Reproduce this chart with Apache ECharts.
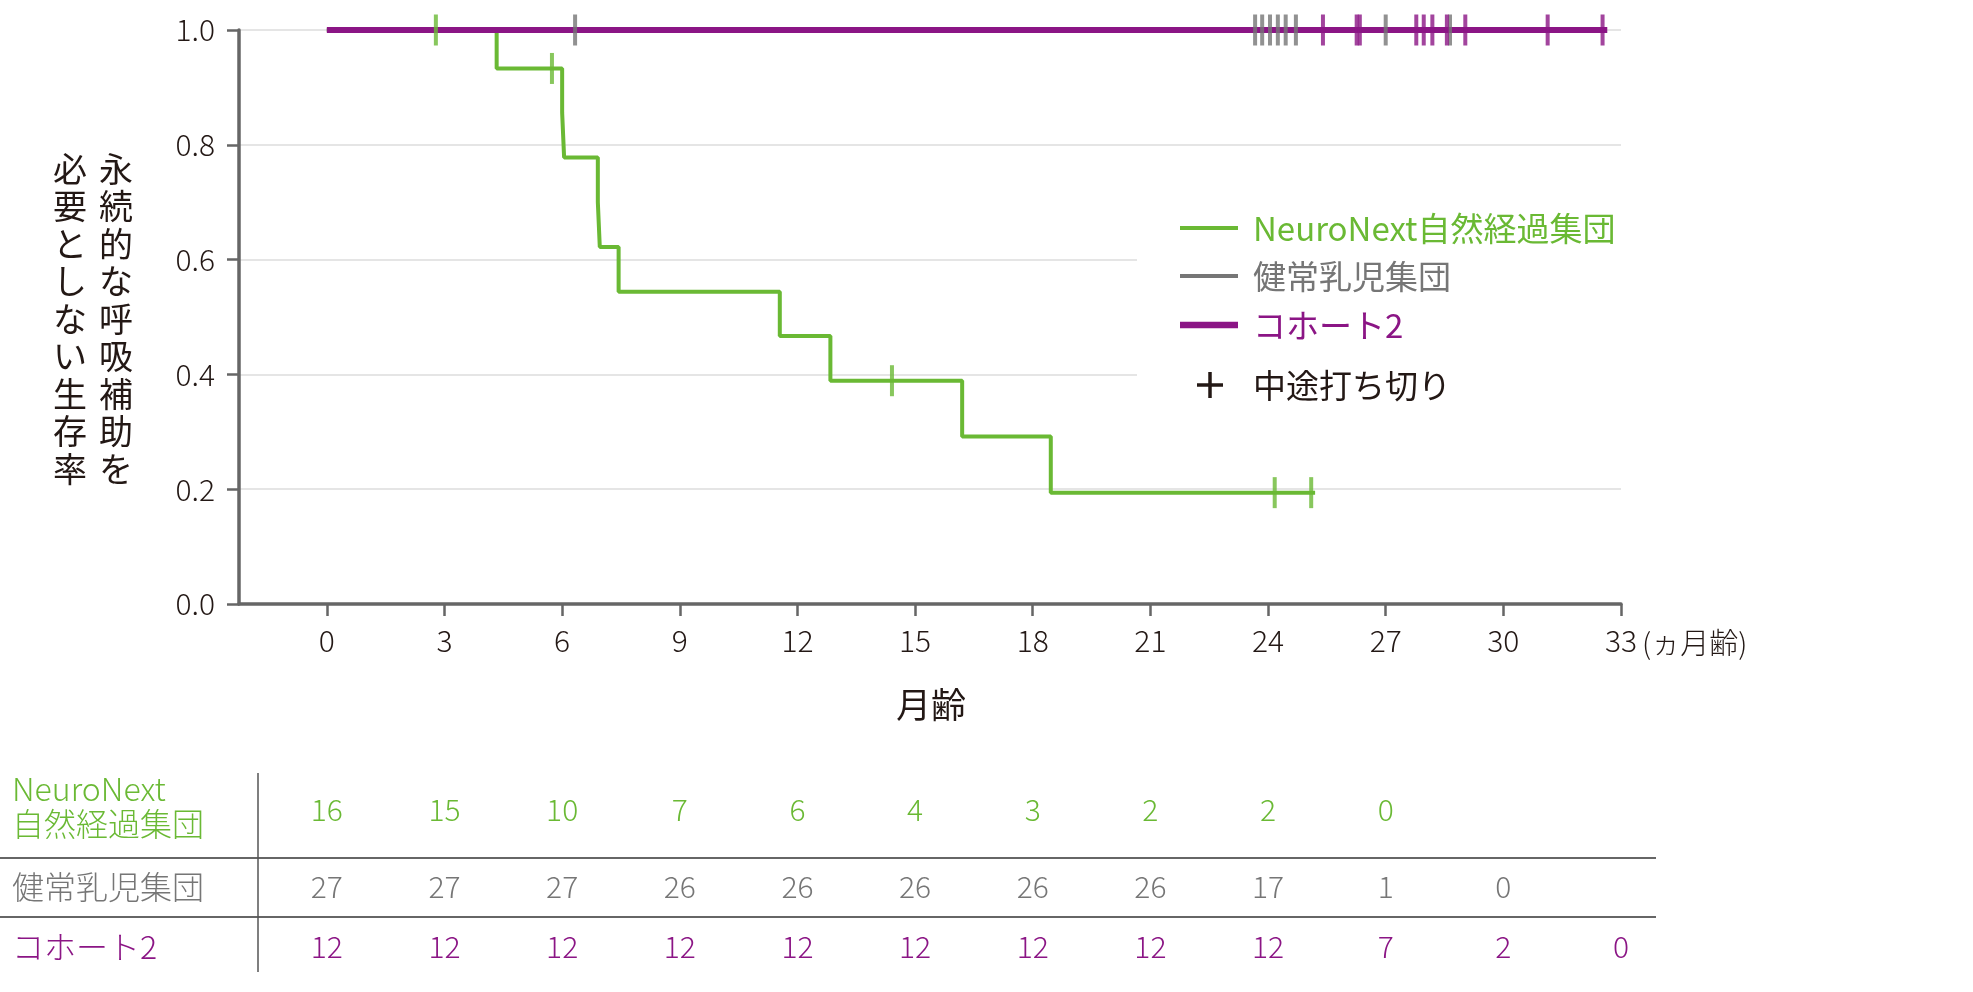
<!DOCTYPE html>
<html><head><meta charset="utf-8">
<script src="https://cdn.jsdelivr.net/npm/echarts@6/dist/echarts.min.js"></script>
<style>html,body{margin:0;padding:0;background:#fff;}#c{width:1973px;height:992px;}</style>
</head><body><div id="c"></div>
<script>
const FONT = '"Noto Sans CJK JP", "Noto Sans", sans-serif';
const GREEN = '#6ab934', GREY = '#767676', PURPLE = '#8b1585', BLACK = '#231815';

// ---- data ----
const seriesNames = ['NeuroNext自然経過集団', '健常乳児集団', 'コホート2'];
const censorName = '中途打ち切り';
const yAxisTitleCols = ['永続的な呼吸補助を', '必要としない生存率'];
const xAxisTitle = '月齢';
const xUnit = '(ヵ月齢)';
const xTicks = [0, 3, 6, 9, 12, 15, 18, 21, 24, 27, 30, 33];

const neuroTimes = [0, 4.33, 6.0, 6.05, 6.91, 6.96, 7.44, 11.55, 12.84, 16.2, 18.46, 25.2];
const neuroSurv  = [1, 0.933, 0.856, 0.778, 0.700, 0.622, 0.544, 0.467, 0.389, 0.292, 0.194, 0.194];
const neuroCensorT = [2.78, 5.74, 14.41, 24.17, 25.1];
const neuroCensorS = [1, 0.933, 0.389, 0.194, 0.194];

const healthyTimes = [0, 28.64];
const healthySurv = [1, 1];
const healthyCensorT = [6.33, 23.67, 23.85, 24.05, 24.25, 24.45, 24.71, 27.0, 28.64];

const cohortTimes = [0, 32.65];
const cohortSurv = [1, 1];
const cohortCensorT = [25.40, 26.26, 26.34, 27.78, 27.97, 28.19, 28.56, 29.03, 31.13, 32.53];

const riskNeuro   = [16, 15, 10, 7, 6, 4, 3, 2, 2, 0];
const riskHealthy = [27, 27, 27, 26, 26, 26, 26, 26, 17, 1, 0];
const riskCohort  = [12, 12, 12, 12, 12, 12, 12, 12, 12, 7, 2, 0];

// ---- chart ----
const chart = echarts.init(document.getElementById('c'), null, {renderer: 'canvas'});
const zip = (a, b) => a.map((v, i) => [v, b[i]]);
const censorSym = [4, 31];

const option = {
  animation: false,
  backgroundColor: '#fff',
  textStyle: {fontFamily: FONT},
  grid: {left: 239, top: 30, width: 1382, height: 574, containLabel: false},
  xAxis: {
    type: 'value', min: -2.24, max: 33,
    axisLine: {show: true, onZero: false, lineStyle: {color: '#666', width: 3.5}},
    axisTick: {show: true, inside: false, length: 12, customValues: xTicks, lineStyle: {color: '#666', width: 2.5}},
    axisLabel: {customValues: xTicks, margin: 22, fontSize: 30, fontWeight: 300, color: BLACK, fontFamily: FONT},
    splitLine: {show: false}
  },
  yAxis: {
    type: 'value', min: 0, max: 1, interval: 0.2,
    axisLine: {show: true, onZero: false, lineStyle: {color: '#666', width: 3.5}},
    axisTick: {show: true, inside: false, length: 12, lineStyle: {color: '#666', width: 2.5}},
    axisLabel: {margin: 24, fontSize: 30, fontWeight: 300, color: BLACK, fontFamily: FONT, formatter: v => v.toFixed(1)},
    splitLine: {show: true, lineStyle: {color: '#dcdcdc', width: 1.5}}
  },
  series: [
    {name: seriesNames[1], type: 'line', data: zip(healthyTimes, healthySurv), symbol: 'none',
     lineStyle: {color: GREY, width: 3}, z: 2, silent: true},
    {name: seriesNames[0], type: 'line', step: 'end', data: zip(neuroTimes, neuroSurv), symbol: 'none',
     lineStyle: {color: GREEN, width: 4}, z: 3, silent: true},
    {name: seriesNames[2], type: 'line', data: zip(cohortTimes, cohortSurv), symbol: 'none',
     lineStyle: {color: PURPLE, width: 6}, z: 4, silent: true},
    {type: 'scatter', data: healthyCensorT.map(t => [t, 1]), symbol: 'rect', symbolSize: censorSym,
     itemStyle: {color: GREY}, z: 5, silent: true},
    {type: 'scatter', data: cohortCensorT.map(t => [t, 1]), symbol: 'rect', symbolSize: censorSym,
     itemStyle: {color: PURPLE}, z: 6, silent: true},
    {type: 'scatter', data: zip(neuroCensorT, neuroCensorS), symbol: 'rect', symbolSize: censorSym,
     itemStyle: {color: GREEN}, z: 7, silent: true}
  ]
};
chart.setOption(option);

// ---- graphic: legend, titles, risk table ----
const g = [];
const txt = (text, x, y, size, color, align, vAlign, lh, weight) => g.push({
  type: 'text', z: 10, silent: true,
  style: {text, x, y, font: (weight || 300) + ' ' + size + 'px ' + FONT, fill: color,
          align: align || 'left', verticalAlign: vAlign || 'middle',
          textAlign: align || 'left', textVerticalAlign: vAlign || 'middle', lineHeight: lh}
});
const ln = (x1, y1, x2, y2, color, w) => g.push({
  type: 'line', z: 10, silent: true,
  shape: {x1, y1, x2, y2}, style: {stroke: color, lineWidth: w}
});

// white backing of the legend (hides gridlines behind it)
g.push({type: 'rect', z: 1, silent: true, shape: {x: 1137, y: 200, width: 520, height: 210}, style: {fill: '#fff'}});

// legend
const legY = [228, 276, 325];
const legColors = [GREEN, GREY, PURPLE];
const legWidths = [4, 4, 6.5];
seriesNames.forEach((n, i) => {
  ln(1180, legY[i], 1238, legY[i], legColors[i], legWidths[i]);
  txt(n, 1253, legY[i], 33, legColors[i], 'left', 'middle', undefined, 400);
});
ln(1197, 385, 1223, 385, BLACK, 3.5);
ln(1210, 372, 1210, 398, BLACK, 3.5);
txt(censorName, 1253, 385, 33, BLACK, 'left', 'middle', undefined, 400);

// y axis title (vertical, two columns)
txt(yAxisTitleCols[0].split('').join('\n'), 116, 150, 34, BLACK, 'center', 'top', 37.5, 400);
txt(yAxisTitleCols[1].split('').join('\n'), 70, 150, 34, BLACK, 'center', 'top', 37.5, 400);

// x axis title and unit
txt(xAxisTitle, 931, 705, 35, BLACK, 'center', 'middle', undefined, 400);
txt(xUnit, 1642, 643, 29, BLACK, 'left');

// risk table
const px = m => chart.convertToPixel({xAxisIndex: 0}, m);
const rowY = [810, 887, 947];
const rows = [riskNeuro, riskHealthy, riskCohort];
rows.forEach((r, i) => r.forEach((v, j) => txt(String(v), px(xTicks[j]), rowY[i], 30, legColors[i], 'center')));
txt('NeuroNext\n自然経過集団', 12, 806, 32, GREEN, 'left', 'middle', 35);
txt(seriesNames[1], 12, 887, 32, GREY);
txt(seriesNames[2], 12, 947, 32, PURPLE);
ln(0, 858, 1656, 858, '#666', 2);
ln(0, 917, 1656, 917, '#666', 2);
ln(258, 773, 258, 972, '#555', 1.5);

chart.setOption({graphic: g});
</script>
</body></html>
